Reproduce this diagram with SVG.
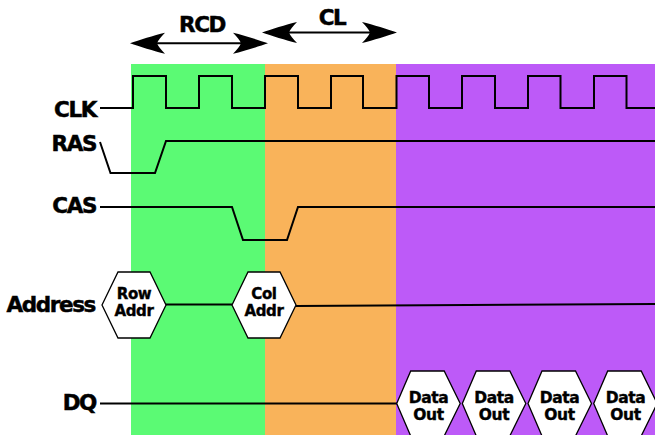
<svg xmlns="http://www.w3.org/2000/svg" xmlns:xlink="http://www.w3.org/1999/xlink" width="655" height="435" viewBox="0 0 655 435">
<style>
.sig{fill:none;stroke:#000;stroke-width:2;stroke-linejoin:miter}
.lbl{font-family:"DejaVu Sans",Verdana,sans-serif;font-weight:bold;font-size:21.5px;letter-spacing:-1.4px;fill:#000;stroke:#000;stroke-width:0.5;text-anchor:end}
.ttl{font-family:"DejaVu Sans",Verdana,sans-serif;font-weight:bold;font-size:21.5px;letter-spacing:-1.4px;fill:#000;stroke:#000;stroke-width:0.5;text-anchor:middle}
.hex{fill:#fff;stroke:#000;stroke-width:1.3}
.ht{font-family:"DejaVu Sans",Verdana,sans-serif;font-weight:bold;font-size:15px;letter-spacing:-0.4px;fill:#000;stroke:#000;stroke-width:0.4;text-anchor:middle}
.dt{font-family:"DejaVu Sans",Verdana,sans-serif;font-weight:bold;font-size:15.5px;letter-spacing:-0.4px;fill:#000;stroke:#000;stroke-width:0.4;text-anchor:middle}
.shaft{stroke:#000;stroke-width:2;fill:none}
</style>
<defs>
<path id="head" d="M0,0 C-9,-3 -24,-8 -35,-10.5 C-31,-6 -28,-3 -27,0 C-28,3 -31,6 -35,10.5 C-24,8 -9,3 0,0 Z" fill="#000"/>
<polygon id="hexD" points="0,0 14,-32.5 47.5,-32.5 63.5,0 47.5,32.5 14,32.5"/>
</defs>
<g id="phases">
<rect x="131" y="64" width="134" height="371" fill="#5bfa74"/>
<rect x="265" y="64" width="131" height="371" fill="#f9b35a"/>
<rect x="396" y="64" width="259" height="371" fill="#bd5af8"/>
</g>
<g id="labels">
<text class="lbl" x="96" y="117">CLK</text>
<text class="lbl" x="96" y="151">RAS</text>
<text class="lbl" x="96" y="213">CAS</text>
<text class="lbl" x="95" y="311.5">Address</text>
<text class="lbl" x="96" y="410">DQ</text>
</g>
<g id="connectors">
<path class="sig" d="M100,108 H133 V76 H166 V108 H199 V76 H232 V108 H265 V76 H298 V108 H331 V76 H363 V108 H396.5 V76 H429 V108 H462 V76 H495 V108 H528 V76 H560.5 V108 H594 V76 H626.5 V108 H655"/>
<path class="sig" d="M100,142 L110.5,173 H155 L166,141 H655"/>
<path class="sig" d="M100,207 H232 L243,240 H287 L298,207 H655"/>
<path class="sig" d="M166,304.5 H232 M296,306 L655,304"/>
<path class="sig" d="M100,403.5 H397"/>
</g>
<g id="rcd">
<line class="shaft" x1="157" y1="43.3" x2="241" y2="43.3"/>
<use xlink:href="#head" transform="translate(130,43.3) scale(-1,1)"/>
<use xlink:href="#head" transform="translate(268,43.3)"/>
<text class="ttl" x="202" y="32">RCD</text>
</g>
<g id="cl">
<line class="shaft" x1="289" y1="32.5" x2="370" y2="32.5"/>
<use xlink:href="#head" transform="translate(262,32.5) scale(-1,1)"/>
<use xlink:href="#head" transform="translate(397,32.5)"/>
<text class="ttl" x="332" y="25">CL</text>
</g>
<g id="row-addr">
<polygon class="hex" points="102,305 118,272 150,272 166,305 150,338 118,338"/>
<text class="ht" x="134" y="299.3">Row</text>
<text class="ht" x="134" y="316.3">Addr</text>
</g>
<g id="col-addr">
<polygon class="hex" points="232,305 248,272 280,272 296,305 280,338 248,338"/>
<text class="ht" x="264" y="299.3">Col</text>
<text class="ht" x="264" y="316.3">Addr</text>
</g>
<g id="data-out-1">
<use class="hex" xlink:href="#hexD" transform="translate(396.7,403.5)"/>
<text class="dt" x="428.5" y="403">Data</text>
<text class="dt" x="428.5" y="420">Out</text>
</g>
<g id="data-out-2">
<use class="hex" xlink:href="#hexD" transform="translate(462.3,403.5)"/>
<text class="dt" x="494" y="403">Data</text>
<text class="dt" x="494" y="420">Out</text>
</g>
<g id="data-out-3">
<use class="hex" xlink:href="#hexD" transform="translate(528,403.5)"/>
<text class="dt" x="559.5" y="403">Data</text>
<text class="dt" x="559.5" y="420">Out</text>
</g>
<g id="data-out-4">
<use class="hex" xlink:href="#hexD" transform="translate(593.7,403.5)"/>
<text class="dt" x="625.5" y="403">Data</text>
<text class="dt" x="625.5" y="420">Out</text>
</g>
</svg>
